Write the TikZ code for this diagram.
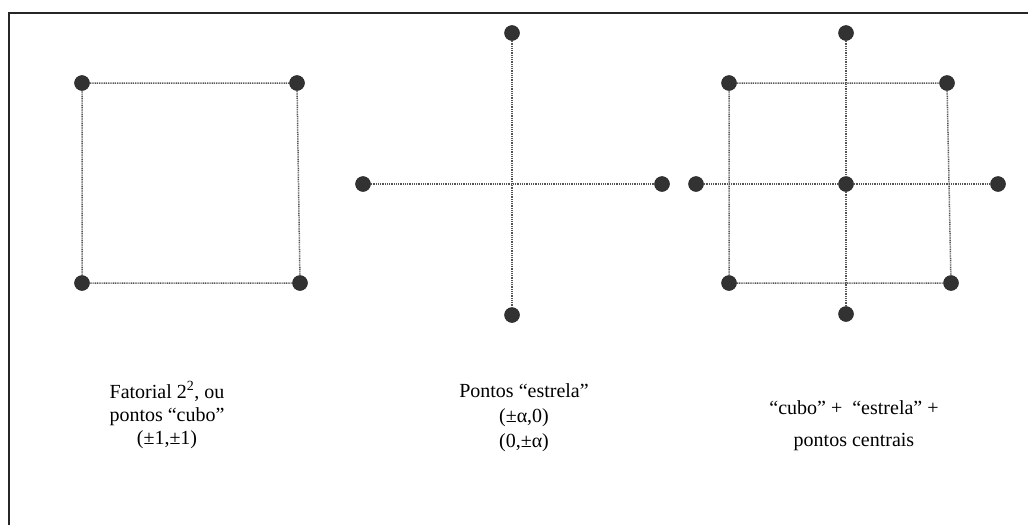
\documentclass[tikz,border=0pt]{standalone}
\usepackage{fontspec}
\setmainfont{Liberation Serif}
\usetikzlibrary{positioning}
\definecolor{pointdark}{RGB}{50,50,50}
\definecolor{gridgray}{RGB}{85,85,85}

\begin{document}
\begin{tikzpicture}[
  x=1pt,y=-1pt,
  pt/.style={circle,fill=pointdark,draw=black!85,line width=0.5pt,minimum size=15pt,inner sep=0pt},
  link/.style={gridgray,line width=1.5pt,dash pattern=on 1pt off 0.8pt},
  caption/.style={font=\fontsize{20}{23}\selectfont,align=center,inner sep=0pt},
  frame/.style={line width=1.8pt,black!85}
]
\useasboundingbox (0,0) rectangle (1028,525);

% Open frame (left and top edges only)
\draw[frame] (9,525) -- (9,13) -- (1028,13);

% Panel 1: factorial 2^2, "cubo" points
\node[pt] (c1) at (82,83) {};
\node[pt] (c2) at (297,83) {};
\node[pt] (c3) at (82,283) {};
\node[pt] (c4) at (300,283) {};
\draw[link] (c1) -- (c2) -- (c4) -- (c3) -- (c1);
\node[caption] (cubolab) at (167,415) {Fatorial 2\textsuperscript{2}, ou\\pontos “cubo”\\(±1,±1)};

% Panel 2: "estrela" points
\node[pt] (s1) at (512,33) {};
\node[pt] (s2) at (363,184) {};
\node[pt] (s3) at (662,184) {};
\node[pt] (s4) at (512,315) {};
\draw[link] (s1) -- (s4);
\draw[link] (s2) -- (s3);
\node[caption,font=\fontsize{20}{25}\selectfont] (estrelalab) at (524,418) {Pontos “estrela”\\(±α,0)\\(0,±α)};

% Panel 3: cubo + estrela + centre
\node[pt] (k1) at (729,83) {};
\node[pt] (k2) at (947,83) {};
\node[pt] (k3) at (729,283) {};
\node[pt] (k4) at (951,283) {};
\node[pt] (a1) at (846,33) {};
\node[pt] (a2) at (696,184) {};
\node[pt] (a3) at (998,184) {};
\node[pt] (a4) at (846,314) {};
\node[pt] (m0) at (846,184) {};
\draw[link] (k1) -- (k2) -- (k4) -- (k3) -- (k1);
\draw[link] (a1) -- (m0) -- (a4);
\draw[link] (a2) -- (m0) -- (a3);
\node[caption,font=\fontsize{20}{32}\selectfont] (fulllab) at (854,426) {“cubo” + ~“estrela” +\\pontos centrais};

\end{tikzpicture}
\end{document}
